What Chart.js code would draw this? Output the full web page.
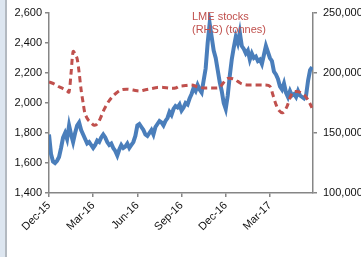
<!DOCTYPE html>
<html><head><meta charset="utf-8">
<script src="https://cdn.jsdelivr.net/npm/chart.js@4"></script>
<style>
html,body{margin:0;padding:0;background:#fff;}
#wrap{position:relative;width:361px;height:257px;overflow:hidden;}
#strip{position:absolute;left:0;top:0;width:5px;height:257px;background:#dde6f0;border-right:2px solid #b3b9c0;}
canvas{position:absolute;left:0;top:0;}
</style></head>
<body><div id="wrap"><div id="strip"></div><canvas id="c" width="361" height="257"></canvas></div>
<script>
// x positions are months since Dec-15
const tickMonths = [0, 3, 6, 9, 12, 15];
const tickLabels = ['Dec-15', 'Mar-16', 'Jun-16', 'Sep-16', 'Dec-16', 'Mar-17'];
const leftTicks = [1400, 1600, 1800, 2000, 2200, 2400, 2600];
const rightTicks = [100000, 150000, 200000, 250000];

// Aluminium price (LHS, US$/t), sampled roughly every 4 days from Dec-15
const priceStepMonths = 0.1364;
const priceValues = [
 1790,1660,1610,1600,1615,1640,1700,1770,1800,1760,1850,1790,1740,1800,1850,1870,1820,1790,1760,1730,
 1740,1720,1700,1720,1750,1740,1770,1790,1770,1740,1720,1730,1700,1680,1650,1690,1720,1700,1710,1730,
 1700,1720,1740,1780,1850,1860,1840,1820,1790,1780,1800,1820,1790,1840,1860,1880,1870,1850,1880,1900,
 1940,1920,1960,1980,1970,1990,1950,1970,2000,1990,2030,2060,2100,2080,2120,2090,2070,2150,2230,2400,
 2530,2440,2350,2300,2220,2140,2080,2000,1960,2050,2180,2290,2370,2440,2400,2470,2380,2360,2330,2350,
 2290,2330,2300,2310,2280,2290,2260,2320,2380,2340,2300,2280,2210,2190,2160,2110,2090,2130,2070,2040,
 2080,2050,2060,2040,2080,2050,2040,2030,2050,2150,2220,2240
];
const priceMonths = priceValues.map((v, i) => i * priceStepMonths);

// LME stocks (RHS, tonnes)
const stockMonths = [0,0.34,0.68,0.95,1.23,1.36,1.5,1.64,1.77,1.91,2.05,2.18,2.32,2.45,2.66,2.86,3.07,3.27,3.48,3.68,
 3.89,4.09,4.36,4.64,4.91,5.32,5.73,6.14,6.55,6.95,7.36,7.77,8.18,8.59,8.86,9.27,9.68,10.09,10.5,10.91,
 11.32,11.59,11.86,12.14,12.55,12.82,13.09,13.5,14.05,14.59,15.0,15.2,15.41,15.61,15.89,16.16,16.36,16.57,16.84,17.11,
 17.39,17.66,17.86];
const stockValues = [192500,191000,188500,187000,185000,184000,200000,218000,216000,212000,200000,186000,175000,166000,161000,158500,156500,157500,162000,168000,
 173000,177000,181000,184000,186000,186500,185800,185000,186000,187000,188000,188000,187500,187500,189000,189500,190000,188500,187500,187500,
 187500,188000,192000,195500,195000,193000,191000,190000,190000,190000,189000,182000,174000,169000,167000,172000,179000,184000,184500,183500,
 181000,176000,171000];

const stockLabel = ['LME stocks', '(RHS) (tonnes)'];

const axisColor = '#868686';
const tickFont = {family: 'Liberation Sans, Arial, sans-serif', size: 11};

const labelPlugin = {
  id: 'lbl',
  afterDatasetsDraw(chart) {
    const ctx = chart.ctx;
    ctx.save();
    ctx.fillStyle = '#c0504d';
    ctx.font = '11px Liberation Sans, Arial, sans-serif';
    ctx.textBaseline = 'middle';
    ctx.fillText(stockLabel[0], 192, 17);
    ctx.fillText(stockLabel[1], 192, 30);
    ctx.restore();
  }
};

new Chart(document.getElementById('c'), {
  type: 'line',
  data: {
    datasets: [
      {
        label: 'LME stocks',
        data: stockMonths.map((m, i) => ({x: m, y: stockValues[i]})),
        yAxisID: 'y2',
        borderColor: '#c0504d',
        borderWidth: 3,
        borderDash: [6, 4],
        pointRadius: 0,
        tension: 0.3,
        fill: false,
        order: 0
      },
      {
        label: 'Aluminium price',
        data: priceMonths.map((m, i) => ({x: m, y: priceValues[i]})),
        yAxisID: 'y',
        borderColor: '#4a7ebb',
        borderWidth: 4,
        pointRadius: 0,
        tension: 0,
        fill: false,
        order: 1
      }
    ]
  },
  options: {
    responsive: false,
    animation: false,
    layout: {padding: {top: 13, left: 0, right: 0, bottom: 0}},
    plugins: {legend: {display: false}, tooltip: {enabled: false}},
    scales: {
      x: {
        type: 'linear',
        min: 0,
        max: 17.93,
        afterBuildTicks(s) { s.ticks = tickMonths.map(v => ({value: v})); },
        afterFit(s) { s.height = 64; },
        ticks: {
          callback: (v) => { const i = tickMonths.indexOf(v); return i >= 0 ? tickLabels[i] : ''; },
          minRotation: 45, maxRotation: 45, autoSkip: false,
          font: tickFont, color: '#111', padding: 2
        },
        grid: {display: true, drawOnChartArea: false, drawTicks: true, tickLength: 4, color: axisColor, lineWidth: 1.5},
        border: {display: true, color: axisColor, width: 1.5}
      },
      y: {
        position: 'left',
        min: 1400, max: 2600,
        afterBuildTicks(s) { s.ticks = leftTicks.map(v => ({value: v})); },
        afterFit(s) { s.width = 49; },
        ticks: {
          callback: (v) => v.toLocaleString('en-US'),
          font: tickFont, color: '#111', padding: 3
        },
        grid: {display: true, drawOnChartArea: false, drawTicks: true, tickLength: 4, color: axisColor, lineWidth: 1.5},
        border: {display: true, color: axisColor, width: 1.5}
      },
      y2: {
        position: 'right',
        min: 100000, max: 250000,
        afterBuildTicks(s) { s.ticks = rightTicks.map(v => ({value: v})); },
        afterFit(s) { s.width = 48; },
        ticks: {
          callback: (v) => v.toLocaleString('en-US'),
          font: tickFont, color: '#111', padding: 6
        },
        grid: {display: true, drawOnChartArea: false, drawTicks: true, tickLength: 4, color: axisColor, lineWidth: 1.5},
        border: {display: true, color: axisColor, width: 1.5}
      }
    }
  },
  plugins: [labelPlugin]
});
</script></body></html>
